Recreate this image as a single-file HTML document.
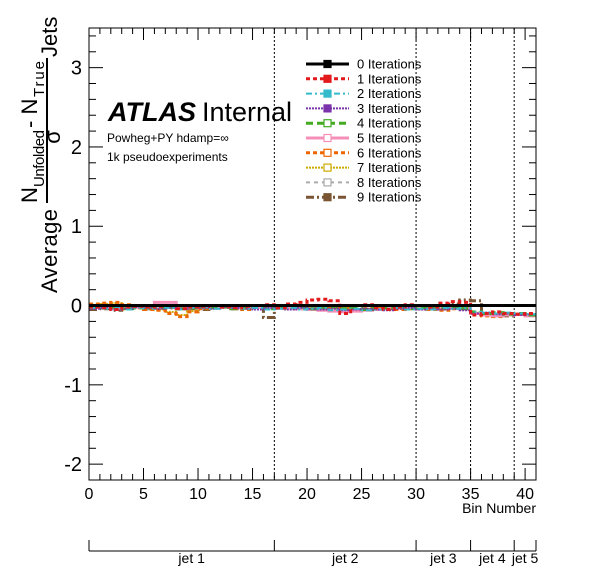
<!DOCTYPE html>
<html><head><meta charset="utf-8"><style>
body{margin:0;background:#fff}
svg text{font-family:"Liberation Sans",sans-serif}
</style></head><body>
<svg id="c" width="596" height="572" viewBox="0 0 596 572" xmlns="http://www.w3.org/2000/svg">
<rect width="596" height="572" fill="#fff"/>
<g id="ticks"></g>
<g id="data"></g>
<rect x="89" y="28" width="447" height="452" fill="none" stroke="#000" stroke-width="1"/>
<text x="108" y="121" font-size="27" font-weight="bold" font-style="italic">ATLAS</text>
<text x="202" y="121" font-size="27">Internal</text>
<text x="107" y="142" font-size="12">Powheg+PY hdamp=∞</text>
<text x="107" y="161" font-size="12">1k pseudoexperiments</text>
<g transform="translate(57,0) rotate(-90)">
<text x="-293" y="0" font-size="22" textLength="84">Average</text>
<text x="-203" y="-20" font-size="22">N</text>
<text x="-187" y="-13" font-size="15" textLength="57">Unfolded</text>
<text x="-128" y="-20" font-size="22">- N</text>
<text x="-97" y="-13" font-size="15" textLength="36">True</text>
<line x1="-203" y1="-10" x2="-58" y2="-10" stroke="#000" stroke-width="2"/>
<text x="-137" y="3" font-size="22" text-anchor="middle">σ</text>
<text x="-57" y="0" font-size="22">Jets</text>
</g>
<text x="536" y="513" font-size="14" text-anchor="end">Bin Number</text>
<g id="legend"></g>
<g id="jetaxis"></g>
</svg>
<script>
const categories = Array.from({length:41},(_,i)=>i+0.5);
const series0 = Array(41).fill(0);
const series1 = [-0.02,-0.03,-0.05,-0.02,-0.01,-0.02,-0.01,0.0,-0.04,-0.02,-0.01,0.0,-0.02,-0.03,-0.01,0.0,0.01,-0.03,0.02,0.04,0.07,0.08,0.06,-0.1,0.0,0.01,-0.03,-0.05,-0.02,0.01,0.0,-0.02,0.03,0.05,0.04,-0.12,-0.1,-0.08,-0.1,-0.11,-0.1];
const series2 = [-0.03,-0.04,-0.02,-0.05,-0.03,-0.04,-0.02,-0.03,-0.05,-0.03,-0.02,-0.04,-0.03,-0.02,-0.04,-0.03,-0.05,-0.04,-0.03,-0.05,-0.04,-0.03,-0.06,-0.05,-0.04,-0.06,-0.05,-0.04,-0.03,-0.05,-0.04,-0.05,-0.03,-0.04,-0.03,-0.08,-0.09,-0.1,-0.09,-0.1,-0.11];
const series3 = [-0.04,-0.03,-0.05,-0.04,-0.02,-0.03,-0.04,-0.03,-0.04,-0.02,-0.03,-0.04,-0.02,-0.03,-0.04,-0.05,-0.03,-0.04,-0.05,-0.03,-0.04,-0.05,-0.04,-0.06,-0.05,-0.04,-0.05,-0.06,-0.04,-0.03,-0.05,-0.04,-0.05,-0.04,-0.06,-0.1,-0.09,-0.11,-0.1,-0.12,-0.11];
const series4 = [-0.02,-0.03,-0.02,-0.04,-0.03,-0.02,-0.03,-0.02,-0.04,-0.03,-0.02,-0.03,-0.02,-0.04,-0.03,-0.02,-0.04,-0.02,-0.03,-0.02,-0.04,-0.03,-0.02,-0.04,-0.03,-0.05,-0.04,-0.03,-0.02,-0.04,-0.03,-0.02,-0.03,-0.02,-0.04,-0.08,-0.1,-0.09,-0.11,-0.1,-0.12];
const series5 = [-0.02,-0.02,-0.03,-0.02,-0.02,-0.01,0.04,0.04,-0.02,-0.03,-0.02,-0.01,-0.02,-0.03,-0.02,-0.02,-0.03,-0.02,-0.03,-0.04,-0.05,-0.06,-0.07,-0.08,-0.07,-0.06,-0.05,-0.03,-0.02,-0.03,-0.04,-0.03,-0.02,-0.03,-0.04,-0.1,-0.12,-0.13,-0.12,-0.11,-0.13];
const series6 = [0.02,0.03,0.04,0.01,-0.03,-0.05,-0.06,-0.1,-0.14,-0.08,-0.04,-0.02,0.0,-0.03,-0.05,-0.02,-0.01,-0.03,-0.02,-0.01,-0.04,-0.05,-0.03,-0.02,-0.06,-0.04,-0.03,-0.02,-0.05,-0.04,-0.03,-0.05,-0.06,-0.04,-0.03,-0.1,-0.13,-0.14,-0.12,-0.11,-0.12];
const series7 = [0.01,0.02,0.03,0.0,-0.02,-0.04,-0.05,-0.08,-0.12,-0.07,-0.03,-0.02,-0.01,-0.03,-0.04,-0.02,-0.02,-0.03,-0.02,-0.02,-0.04,-0.04,-0.03,-0.03,-0.05,-0.04,-0.03,-0.03,-0.04,-0.04,-0.03,-0.04,-0.05,-0.04,-0.03,-0.09,-0.12,-0.13,-0.12,-0.1,-0.11];
const series8 = [-0.03,-0.02,-0.04,-0.03,-0.02,-0.03,-0.04,-0.03,-0.02,-0.03,-0.04,-0.03,-0.02,-0.03,-0.04,-0.03,-0.02,-0.04,-0.03,-0.02,-0.03,-0.04,-0.03,-0.05,-0.04,-0.03,-0.04,-0.05,-0.03,-0.04,-0.03,-0.05,-0.04,-0.03,-0.04,-0.09,-0.1,-0.11,-0.1,-0.11,-0.12];
const series9 = [-0.05,-0.04,-0.06,-0.03,-0.02,-0.04,-0.02,-0.03,-0.01,-0.04,-0.05,-0.03,-0.02,-0.04,-0.03,-0.02,-0.15,0.0,-0.03,-0.04,-0.05,-0.03,-0.02,-0.04,-0.06,-0.05,-0.03,-0.04,-0.02,-0.01,-0.04,-0.03,-0.02,0.02,0.07,0.06,-0.1,-0.12,-0.13,-0.11,-0.12];
const xTicks = [0,5,10,15,20,25,30,35,40];
const yTicks = [-2,-1,0,1,2,3];
const jetEdges = [0,17,30,35,39,41];
const jetLabels = ["jet 1","jet 2","jet 3","jet 4","jet 5"];
const seriesNames = ["0 Iterations","1 Iterations","2 Iterations","3 Iterations","4 Iterations","5 Iterations","6 Iterations","7 Iterations","8 Iterations","9 Iterations"];
const NS='http://www.w3.org/2000/svg';
const X0=89,X1=536,Y0=480,Y1=28,XMIN=0,XMAX=41,YMIN=-2.2,YMAX=3.5;
const sx=v=>X0+(v-XMIN)/(XMAX-XMIN)*(X1-X0);
const sy=v=>Y0-(v-YMIN)/(YMAX-YMIN)*(Y0-Y1);
function mk(tag,attrs,parent){const e=document.createElementNS(NS,tag);for(const k in attrs)e.setAttribute(k,attrs[k]);parent.appendChild(e);return e;}
const tg=document.getElementById('ticks');
for(let v=0;v<=41;v++){const L=xTicks.includes(v)?12:6;
 const l=mk('line',{x1:sx(v),x2:sx(v),y1:Y0,y2:Y0-L,stroke:'#000'},tg);
 
 
 const l2=mk('line',{x1:sx(v),x2:sx(v),y1:Y1,y2:Y1+L,stroke:'#000'},tg);
 
 }
xTicks.forEach(v=>{const t=mk('text',{x:sx(v),y:499,'font-size':16,'text-anchor':'middle'},tg);t.textContent=v;
 
 });
for(let i=-11;i<=17;i++){const v=i*0.2;if(v<YMIN-1e-9||v>YMAX)continue;const maj=Math.abs(v-Math.round(v))<1e-6;const L=maj?14:7;
 const l=mk('line',{x1:X0,x2:X0+L,y1:sy(v),y2:sy(v),stroke:'#000'},tg);
 
 
 const l2=mk('line',{x1:X1,x2:X1-L,y1:sy(v),y2:sy(v),stroke:'#000'},tg);
 
 }
yTicks.forEach(v=>{const t=mk('text',{x:82,y:sy(v)+7,'font-size':20,'text-anchor':'end'},tg);t.textContent=v;
 
 });
[17,30,35,39].forEach(v=>{const l=mk('line',{x1:sx(v),x2:sx(v),y1:Y1,y2:Y0,stroke:'#000','stroke-dasharray':'2,2'},tg);
 
 });
const all=[series0,series1,series2,series3,series4,series5,series6,series7,series8,series9];
const colors=['#000','#e31a1c','#33bbcc','#7a33aa','#44aa22','#f58fb8','#ee6600','#ccaa00','#aaaaaa','#7a5533'];
const dashes=['none','4,3','6,3,2,3','2,1','7,4','none','4,3','2,1','4,4','8,3,2,3'];
const widths=[3,3,2,2,3,3,3,2,2,3];
const dg=document.getElementById('data');
for(let s=all.length-1;s>=0;s--){const d=all[s];let p='';
 d.forEach((v,i)=>{p+=(i?'L':'M')+sx(i)+','+sy(v)+'L'+sx(i+1)+','+sy(v);});
 const path=mk('path',{d:p,fill:'none',stroke:colors[s],'stroke-width':widths[s],'stroke-dasharray':dashes[s]},dg);
 
 }
const lg=document.getElementById('legend');
seriesNames.forEach((n,i)=>{const y=64+i*14.8;
 const l=mk('line',{x1:306,x2:349,y1:y,y2:y,stroke:colors[i],'stroke-width':widths[i],'stroke-dasharray':dashes[i]},lg);
 
 
 const m=mk('rect',{x:324,y:y-3.5,width:7,height:7,fill:(i==4||i==5||i==6||i==7||i==8)?'#fff':colors[i],stroke:colors[i],'stroke-width':1.2},lg);
 
 
 const t=mk('text',{x:357,y:y+4.5,'font-size':13},lg);t.textContent=n;
 
 });
const jg=document.getElementById('jetaxis');
const base=mk('line',{x1:sx(0),x2:sx(41),y1:551,y2:551,stroke:'#000'},jg);


jetEdges.forEach(v=>{const l=mk('line',{x1:sx(v),x2:sx(v),y1:540,y2:551,stroke:'#000'},jg);
 
 });
jetLabels.forEach((n,i)=>{const t=mk('text',{x:(sx(jetEdges[i])+sx(jetEdges[i+1]))/2+(i==0?10:0),y:563,'font-size':14,'text-anchor':'middle'},jg);t.textContent=n;
 
 });
</script>
</body></html>
